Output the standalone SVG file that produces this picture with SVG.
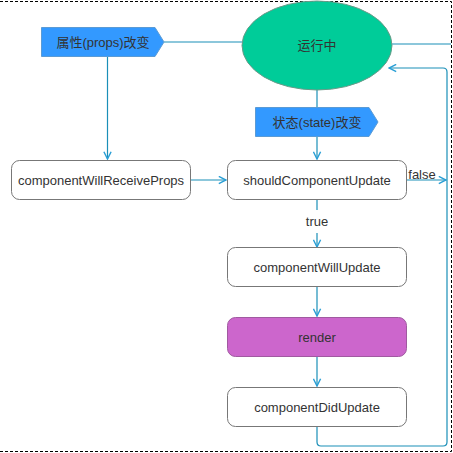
<svg xmlns="http://www.w3.org/2000/svg" width="453" height="453" viewBox="0 0 453 453">
<defs>
<style>
.t{font-family:"Liberation Sans",Arial,"Noto Sans CJK SC",sans-serif;font-size:13px;fill:#333;text-anchor:middle}
.box{fill:#fff;stroke:#777;stroke-width:1}
.ln{fill:none;stroke:#1a8fb8;stroke-width:1.2}
.tag{fill:#3399ff;stroke:#5b9bd5;stroke-width:1}
</style>
<marker id="ah" viewBox="0 0 10 10" refX="9" refY="5" markerWidth="9" markerHeight="9" orient="auto" markerUnits="userSpaceOnUse">
<path d="M1,1 L9,5 L1,9" fill="none" stroke="#2a9fd6" stroke-width="1.6"/>
</marker>
</defs>
<rect x="-5" y="1.5" width="456.5" height="450" fill="none" stroke="#000" stroke-width="1" stroke-dasharray="3,2"/>
<g id="connectors">
<path class="ln" d="M164,42 L242,42"/>
<path class="ln" d="M392,44 L451,44"/>
<path class="ln" d="M107.5,57 L107.5,159" marker-end="url(#ah)"/>
<path class="ln" d="M317,90 L317,107"/>
<path class="ln" d="M317,137 L317,159" marker-end="url(#ah)"/>
<path class="ln" d="M191,180 L226,180" marker-end="url(#ah)"/>
<path class="ln" d="M407,180 L446,180" marker-end="url(#ah)"/>
<path class="ln" d="M317,200 L317,210"/>
<path class="ln" d="M317,233 L317,247" marker-end="url(#ah)"/>
<path class="ln" d="M317,287 L317,316" marker-end="url(#ah)"/>
<path class="ln" d="M317,357 L317,386" marker-end="url(#ah)"/>
<path class="ln" d="M317,427 L317,442 Q317,446 321,446 L443,446 Q447,446 447,442 L447,72 Q447,68 443,68 L389,68" marker-end="url(#ah)"/>
<text class="t" x="422" y="179">false</text>
<text class="t" x="317" y="226">true</text>
</g>
<g id="running">
<ellipse cx="317" cy="45.5" rx="75" ry="44.5" fill="#00cc99" stroke="#6a9a88" stroke-width="1"/>
<text class="t" x="317" y="50">运行中</text>
</g>
<g id="props-change">
<path class="tag" d="M41.5,27.5 L155,27.5 L164,42 L155,56.5 L41.5,56.5 Z"/>
<text class="t" x="103" y="47">属性(props)改变</text>
</g>
<g id="state-change">
<path class="tag" d="M255.5,107.5 L369,107.5 L378,122 L369,136.5 L255.5,136.5 Z"/>
<text class="t" x="317" y="127">状态(state)改变</text>
</g>
<g id="componentWillReceiveProps">
<rect class="box" x="11.5" y="160.5" width="179" height="39" rx="8"/>
<text class="t" x="101" y="184.5">componentWillReceiveProps</text>
</g>
<g id="shouldComponentUpdate">
<rect class="box" x="227.5" y="160.5" width="179" height="39" rx="8"/>
<text class="t" x="317" y="184.5">shouldComponentUpdate</text>
</g>
<g id="componentWillUpdate">
<rect class="box" x="227.5" y="247.5" width="179" height="39" rx="8"/>
<text class="t" x="317" y="271.5">componentWillUpdate</text>
</g>
<g id="render">
<rect x="227.5" y="317.5" width="179" height="39" rx="8" fill="#cc66cc" stroke="#a05aa0" stroke-width="1"/>
<text class="t" x="317" y="341.5">render</text>
</g>
<g id="componentDidUpdate">
<rect class="box" x="227.5" y="387.5" width="179" height="39" rx="8"/>
<text class="t" x="317" y="411.5">componentDidUpdate</text>
</g>
</svg>
